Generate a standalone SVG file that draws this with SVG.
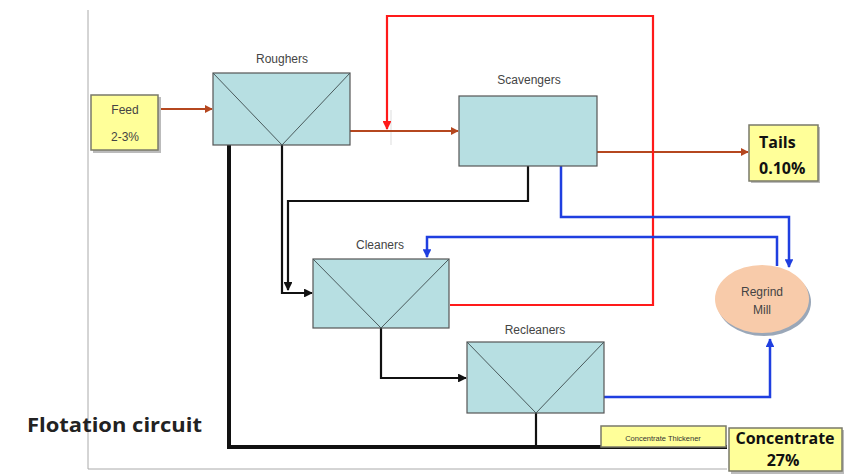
<svg xmlns="http://www.w3.org/2000/svg" width="846" height="476" viewBox="0 0 846 476">
<defs>
<style>
.cell{fill:#B7DFE2;stroke:#555;stroke-width:1.2}
.v{fill:none;stroke:#4a5a5c;stroke-width:1}
.lab{font-family:"Liberation Sans",Arial,sans-serif;font-size:12px;fill:#444;text-anchor:middle}
.ybox{fill:#FFFF99;stroke:#7a7a6a;stroke-width:1.5}
.shadow{fill:#bbb}
.big{font-family:"Open Sans","Liberation Sans",sans-serif;font-weight:bold;font-size:16px;fill:#111;text-anchor:middle}
.left{text-anchor:start}
.brown{fill:none;stroke:#B5471F;stroke-width:2}
.red{fill:none;stroke:#FF1A1A;stroke-width:2.2}
.blue{fill:none;stroke:#1F3FE0;stroke-width:2.5}
.blk{fill:none;stroke:#111;stroke-width:2.2}
</style>
<marker id="ab" viewBox="0 0 10 10" refX="9" refY="5" markerWidth="4" markerHeight="4" orient="auto"><path d="M0,0 L10,5 L0,10 z" fill="#B5471F"/></marker>
<marker id="ar" viewBox="0 0 10 10" refX="9" refY="5" markerWidth="4" markerHeight="4" orient="auto"><path d="M0,0 L10,5 L0,10 z" fill="#FF1A1A"/></marker>
<marker id="au" viewBox="0 0 10 10" refX="9" refY="5" markerWidth="3.5" markerHeight="3.5" orient="auto"><path d="M0,0 L10,5 L0,10 z" fill="#1F3FE0"/></marker>
<marker id="ak" viewBox="0 0 10 10" refX="9" refY="5" markerWidth="4" markerHeight="4" orient="auto"><path d="M0,0 L10,5 L0,10 z" fill="#111"/></marker>
</defs>
<rect width="846" height="476" fill="#fff"/>
<!-- frame -->
<path d="M88,10 V469 H727" fill="none" stroke="#aaa" stroke-width="1"/>
<line x1="391" y1="110" x2="391" y2="145" stroke="#ddd" stroke-width="1"/>

<g id="connectors">
<path class="brown" d="M159,109 H212" marker-end="url(#ab)"/>
<path class="brown" d="M350,131 H458" marker-end="url(#ab)"/>
<path class="brown" d="M597,152 H748" marker-end="url(#ab)"/>
<path class="red" d="M450,305 H653 V16 H387 V129" marker-end="url(#ar)"/>
<path class="blue" d="M561,166 V217 H789 V267" marker-end="url(#au)"/>
<path class="blue" d="M777,266 V237 H427 V257" marker-end="url(#au)"/>
<path class="blue" d="M604,397 H770 V339" marker-end="url(#au)"/>
<path class="blk" d="M282,145 V293 H312" marker-end="url(#ak)"/>
<path class="blk" d="M528,166 V201 H288 V290" marker-end="url(#ak)"/>
<path class="blk" d="M381,328 V378 H466" marker-end="url(#ak)"/>
<path fill="none" stroke="#111" stroke-width="4" d="M229,145 V447 H727"/>
<path class="blk" d="M536,413 V447"/>
</g>

<g id="feed">
<rect class="shadow" x="93" y="97" width="68" height="56"/>
<rect class="ybox" x="91" y="95" width="67" height="55"/>
<text class="lab" x="125" y="114" fill="#333">Feed</text>
<text class="lab" x="125" y="141" fill="#333">2-3%</text>
</g>

<g id="roughers">
<rect class="cell" x="213" y="73" width="137" height="72"/>
<path class="v" d="M213,73 L282,145 L350,73"/>
<text class="lab" x="282" y="63">Roughers</text>
</g>

<g id="scavengers">
<rect class="cell" x="459" y="96" width="138" height="70"/>
<text class="lab" x="529" y="84">Scavengers</text>
</g>

<g id="cleaners">
<rect class="cell" x="313" y="259" width="136" height="69"/>
<path class="v" d="M313,259 L381,328 L449,259"/>
<text class="lab" x="380" y="249">Cleaners</text>
</g>

<g id="recleaners">
<rect class="cell" x="467" y="342" width="137" height="71"/>
<path class="v" d="M467,342 L536,413 L604,342"/>
<text class="lab" x="535" y="334">Recleaners</text>
</g>

<g id="tails">
<rect class="shadow" x="751" y="127" width="69" height="56"/>
<rect class="ybox" x="749" y="125" width="69" height="56"/>
<text class="big left" x="759" y="148">Tails</text>
<text class="big left" x="759" y="174">0.10%</text>
</g>

<g id="regrind">
<ellipse cx="764" cy="302" rx="47" ry="34" fill="#9aa7b8"/>
<ellipse cx="762" cy="299" rx="47" ry="34" fill="#F8CBAA"/>
<text class="lab" x="762" y="296" fill="#555">Regrind</text>
<text class="lab" x="762" y="314" fill="#555">Mill</text>
</g>

<g id="thickener">
<rect class="ybox" x="601" y="426" width="125" height="21" stroke-width="1"/>
<text x="663" y="441" font-family="'Liberation Sans',Arial,sans-serif" font-size="7.5" fill="#333" text-anchor="middle">Concentrate Thickener</text>
</g>

<g id="concentrate">
<rect class="shadow" x="731" y="430" width="113" height="44"/>
<rect class="ybox" x="729" y="428" width="113" height="43"/>
<text class="big" x="785" y="444">Concentrate</text>
<text class="big" x="783" y="466">27%</text>
</g>

<text x="27" y="432" font-family="'Open Sans','Liberation Sans',sans-serif" font-weight="bold" font-size="20" fill="#222" textLength="175" lengthAdjust="spacingAndGlyphs">Flotation circuit</text>
</svg>
